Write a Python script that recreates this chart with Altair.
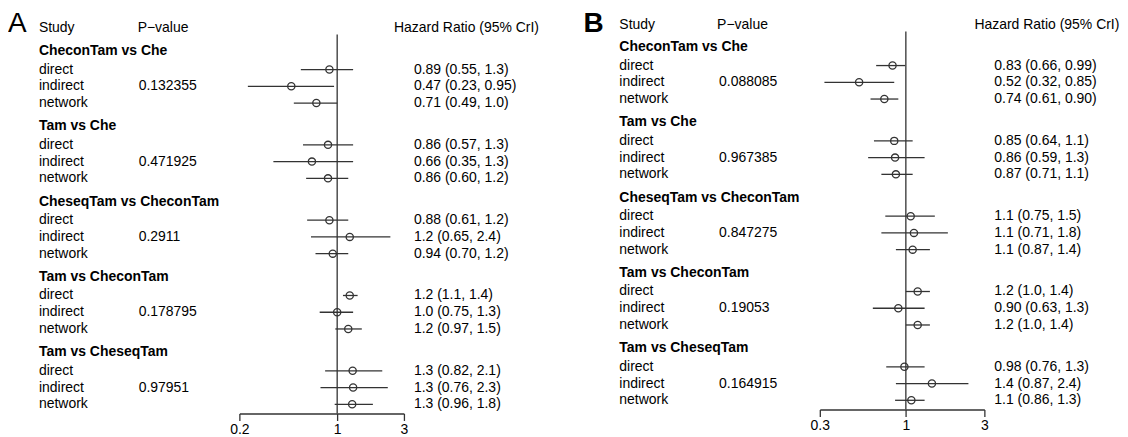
import altair as alt
import pandas as pd

comparisons = ["CheconTam vs Che", "Tam vs Che", "CheseqTam vs CheconTam",
               "Tam vs CheconTam", "Tam vs CheseqTam"]
evidence = ["direct", "indirect", "network"]

# ---------- Panel A ----------
a_hr = [0.88, 0.47, 0.71, 0.86, 0.66, 0.86, 0.88, 1.23, 0.93, 1.23, 1.0, 1.2, 1.29, 1.3, 1.28]
a_lo = [0.55, 0.23, 0.49, 0.57, 0.35, 0.60, 0.61, 0.65, 0.70, 1.1, 0.75, 0.97, 0.82, 0.76, 0.96]
a_hi = [1.3, 0.95, 1.0, 1.3, 1.3, 1.2, 1.2, 2.4, 1.2, 1.4, 1.3, 1.5, 2.1, 2.3, 1.8]
a_labels = ["0.89 (0.55, 1.3)", "0.47 (0.23, 0.95)", "0.71 (0.49, 1.0)",
            "0.86 (0.57, 1.3)", "0.66 (0.35, 1.3)", "0.86 (0.60, 1.2)",
            "0.88 (0.61, 1.2)", "1.2 (0.65, 2.4)", "0.94 (0.70, 1.2)",
            "1.2 (1.1, 1.4)", "1.0 (0.75, 1.3)", "1.2 (0.97, 1.5)",
            "1.3 (0.82, 2.1)", "1.3 (0.76, 2.3)", "1.3 (0.96, 1.8)"]
a_pvalues = ["0.132355", "0.471925", "0.2911", "0.178795", "0.97951"]
a_ticks = [0.2, 1, 3]

# ---------- Panel B ----------
b_hr = [0.83, 0.52, 0.74, 0.85, 0.86, 0.87, 1.07, 1.12, 1.10, 1.18, 0.90, 1.18, 0.98, 1.44, 1.08]
b_lo = [0.66, 0.32, 0.61, 0.64, 0.59, 0.71, 0.75, 0.71, 0.87, 1.0, 0.63, 1.0, 0.76, 0.87, 0.86]
b_hi = [0.99, 0.85, 0.90, 1.1, 1.3, 1.1, 1.5, 1.8, 1.4, 1.4, 1.3, 1.4, 1.3, 2.4, 1.3]
b_labels = ["0.83 (0.66, 0.99)", "0.52 (0.32, 0.85)", "0.74 (0.61, 0.90)",
            "0.85 (0.64, 1.1)", "0.86 (0.59, 1.3)", "0.87 (0.71, 1.1)",
            "1.1 (0.75, 1.5)", "1.1 (0.71, 1.8)", "1.1 (0.87, 1.4)",
            "1.2 (1.0, 1.4)", "0.90 (0.63, 1.3)", "1.2 (1.0, 1.4)",
            "0.98 (0.76, 1.3)", "1.4 (0.87, 2.4)", "1.1 (0.86, 1.3)"]
b_pvalues = ["0.088085", "0.967385", "0.847275", "0.19053", "0.164915"]
b_ticks = [0.3, 1, 3]

FONT = "Liberation Sans"
LINE = "#333333"


def panel(letter, hr, lo, hi, labels, pvals, ticks, geo):
    rows = []
    for g, comp in enumerate(comparisons):
        for k, ev in enumerate(evidence):
            i = 3 * g + k
            rows.append(dict(ev=ev, y=4.5 * g + 1.2 + k, hr=hr[i], lo=lo[i], hi=hi[i],
                             lab=labels[i], p=pvals[g] if k == 1 else ""))
    rows = pd.DataFrame(rows)
    heads = pd.DataFrame({"comp": comparisons,
                          "y": [4.5 * g + 0.1 for g in range(len(comparisons))]})

    xs = alt.Scale(type="log", domain=[ticks[0], ticks[-1]], range=geo["xr"], nice=False)
    ys = alt.Scale(domain=[0, 21.75], range=geo["yr"], nice=False, zero=False)
    xaxis = alt.Axis(values=ticks, format="~g", title=None, grid=False, tickSize=7,
                     labelPadding=2, domainColor=LINE, tickColor=LINE, domainWidth=1.3,
                     tickWidth=1.3, labelFont=FONT, labelFontSize=14, labelColor="black",
                     labelFlush=False, labelOverlap=False)

    vline = alt.Chart(pd.DataFrame({"one": [1], "y0": [geo["vtop"]], "y1": [21.75]})).mark_rule(
        color=LINE, strokeWidth=1.3).encode(
        x=alt.X("one:Q", scale=xs, axis=xaxis),
        y=alt.Y("y0:Q", scale=ys, axis=None), y2="y1:Q")

    ci = alt.Chart(rows).mark_rule(color=LINE, strokeWidth=1.3).encode(
        x=alt.X("lo:Q", scale=xs, axis=xaxis), x2="hi:Q",
        y=alt.Y("y:Q", scale=ys, axis=None))

    pts = alt.Chart(rows).mark_point(shape="circle", filled=False, size=52,
                                     strokeWidth=1.3, color=LINE, opacity=1).encode(
        x=alt.X("hr:Q", scale=xs, axis=xaxis),
        y=alt.Y("y:Q", scale=ys, axis=None))

    def txt(df, field, x, bold=False):
        return alt.Chart(df).mark_text(align="left", baseline="middle", font=FONT,
                                       fontSize=14, color="black",
                                       fontWeight="bold" if bold else "normal").encode(
            x=alt.value(x), y=alt.Y("y:Q", scale=ys, axis=None), text=f"{field}:N")

    ev_txt = txt(rows, "ev", geo["study"])
    p_txt = txt(rows, "p", geo["pval"])
    hr_txt = txt(rows, "lab", geo["hrv"])
    head_txt = txt(heads, "comp", geo["study"], bold=True)

    colh = pd.DataFrame({"y": [geo["colh"]], "s": ["Study"], "p": ["P\u2212value"],
                         "h": ["Hazard Ratio (95% CrI)"]})
    c1 = txt(colh, "s", geo["study"])
    c2 = txt(colh, "p", geo["phead"])
    c3 = txt(colh, "h", geo["hrh"])

    let = alt.Chart(pd.DataFrame({"t": [letter]})).mark_text(
        align="left", baseline="middle", font=FONT, fontSize=28, color="black",
        fontWeight=geo["lw"]).encode(
        x=alt.value(geo["letx"]), y=alt.value(15), text="t:N")

    return alt.layer(vline, ci, pts, ev_txt, p_txt, hr_txt, head_txt, c1, c2, c3, let).properties(
        width=geo["w"], height=geo["h"])


geoA = dict(w=548, h=406, xr=[232, 397], yr=[41, 406], vtop=-0.9, colh=-1.3,
            study=31, phead=130, pval=131, hrh=387, hrv=407, letx=0, lw="normal")
geoB = dict(w=558, h=402, xr=[266, 431], yr=[37, 402], vtop=-0.83, colh=-1.22,
            study=65, phead=163, pval=165, hrh=421, hrv=441, letx=29, lw="bold")

pA = panel("A", a_hr, a_lo, a_hi, a_labels, a_pvalues, a_ticks, geoA)
pB = panel("B", b_hr, b_lo, b_hi, b_labels, b_pvalues, b_ticks, geoB)

chart = alt.hconcat(pA, pB, spacing=0).properties(padding=0).configure_view(stroke=None)

chart.save("out.html", embed_options={"renderer": "svg", "actions": False})
